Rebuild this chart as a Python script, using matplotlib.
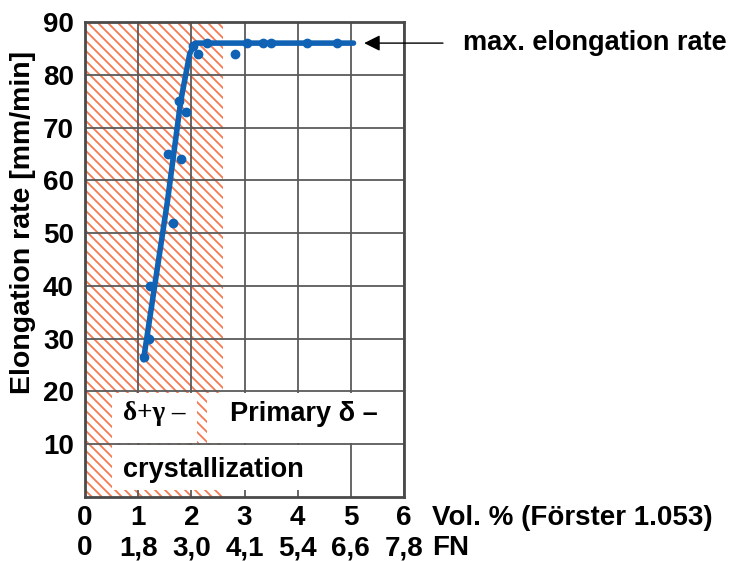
import numpy as np
import matplotlib
matplotlib.use("Agg")
import matplotlib.pyplot as plt
from matplotlib.patches import Rectangle
from matplotlib.collections import LineCollection
import matplotlib.transforms as mtransforms

plt.rcParams['font.family'] = ['Liberation Sans', 'DejaVu Sans']
plt.rcParams['font.weight'] = 'bold'

# measured elongation rates vs. delta ferrite content
vol_pct = [1.10, 1.20, 1.23, 1.66, 1.57, 1.80, 1.76, 1.89, 2.04, 2.13,
           2.83, 2.30, 3.05, 3.35, 3.50, 4.17, 4.73]
rate = [26.5, 30, 40, 52, 65, 64, 75, 73, 85.5, 84,
        84, 86, 86, 86, 86, 86, 86]

# trend curve through the measurements
trend_x = [1.10, 1.55, 1.80, 1.97, 2.07, 5.05]
trend_y = [26, 56, 75, 84, 86, 86]

vol_ticks = [0, 1, 2, 3, 4, 5, 6]
fn_labels = ['0', '1,8', '3,0', '4,1', '5,4', '6,6', '7,8']
rate_ticks = [10, 20, 30, 40, 50, 60, 70, 80, 90]

mixed_limit = 2.6   # upper end of the delta+gamma region
max_rate = 86

blue = '#0f62b4'
hatch_col = '#f47a52'
fs = 19.5

fig = plt.figure(figsize=(7.31, 5.61), dpi=100)
ax = fig.add_axes([0.1163, 0.1141, 0.4364, 0.8467])
ax.set_xlim(0, 6)
ax.set_ylim(0, 90)

# diagonal hatching of the delta+gamma region
w_in = 0.4364 * 7.31
h_in = 0.8467 * 5.61
step = 0.10 / w_in
k = w_in / h_in
segs = []
for x0 in np.arange(-2.0, 1.0, step):
    segs.append([(x0, 1.0), (x0 + 1.0 / k, 0.0)])
hatch = LineCollection(segs, colors=hatch_col, linewidths=1.3,
                       transform=ax.transAxes, zorder=0.3)
clip = Rectangle((0, 0), mixed_limit, 90, transform=ax.transData,
                 facecolor='none', edgecolor='none')
ax.add_patch(clip)
ax.add_collection(hatch)
hatch.set_clip_path(clip)

ax.set_axisbelow(True)
ax.grid(True, color='#5a5a5a', lw=1.3)
ax.set_xticks(vol_ticks)
ax.set_yticks(rate_ticks)
ax.tick_params(length=0, labelsize=20, pad=8)
ax.set_xticklabels([])
for sp in ax.spines.values():
    sp.set_color('#4a4a4a')
    sp.set_linewidth(2)

# white label boxes over the grid
for (bx, by, bw, bh) in [(0.51, 10.2, 1.60, 9.5), (2.30, 10.2, 3.60, 9.5),
                         (0.51, 1.3, 3.85, 8.6)]:
    ax.add_patch(Rectangle((bx, by), bw, bh, facecolor='white',
                           edgecolor='none', zorder=2))

ax.text(0.71, 15.8, 'δ+γ –', fontsize=fs, va='center', ha='left',
        family=['Liberation Serif', 'DejaVu Serif'], fontweight='bold', zorder=3)
ax.text(2.73, 15.8, 'Primary δ –', fontsize=fs, va='center', ha='left', zorder=3)
ax.text(0.71, 5.1, 'crystallization', fontsize=fs, va='center', ha='left', zorder=3)

ax.plot(trend_x, trend_y, color=blue, lw=4.0, solid_capstyle='round', zorder=4)
ax.plot(vol_pct, rate, 'o', color=blue, ms=6, zorder=5)

ax.annotate('', xy=(5.25, max_rate), xycoords='data',
            xytext=(1.122, max_rate), textcoords=('axes fraction', 'data'),
            arrowprops=dict(arrowstyle='-|>', color='black', lw=1.0,
                            mutation_scale=24, shrinkA=0, shrinkB=0),
            annotation_clip=False)
ax.text(1.185, max_rate, 'max. elongation rate',
        transform=mtransforms.blended_transform_factory(ax.transAxes, ax.transData),
        fontsize=fs, va='center', ha='left')

# two rows of x labels: vol.% and ferrite number
trans = mtransforms.blended_transform_factory(ax.transData, ax.transAxes)
for xv, fn in zip(vol_ticks, fn_labels):
    ax.text(xv, -0.044, str(xv), transform=trans, ha='center', va='center', fontsize=20)
    ax.text(xv, -0.108, fn, transform=trans, ha='center', va='center', fontsize=20)
ax.text(6.53, -0.044, 'Vol. % (Förster 1.053)', transform=trans, ha='left',
        va='center', fontsize=20)
ax.text(6.53, -0.108, 'FN', transform=trans, ha='left', va='center', fontsize=20)

fig.text(0.031, 0.604, 'Elongation rate [mm/min]', rotation=90, ha='center',
         va='center', fontsize=20.5)

fig.savefig('out.png', dpi=100)
